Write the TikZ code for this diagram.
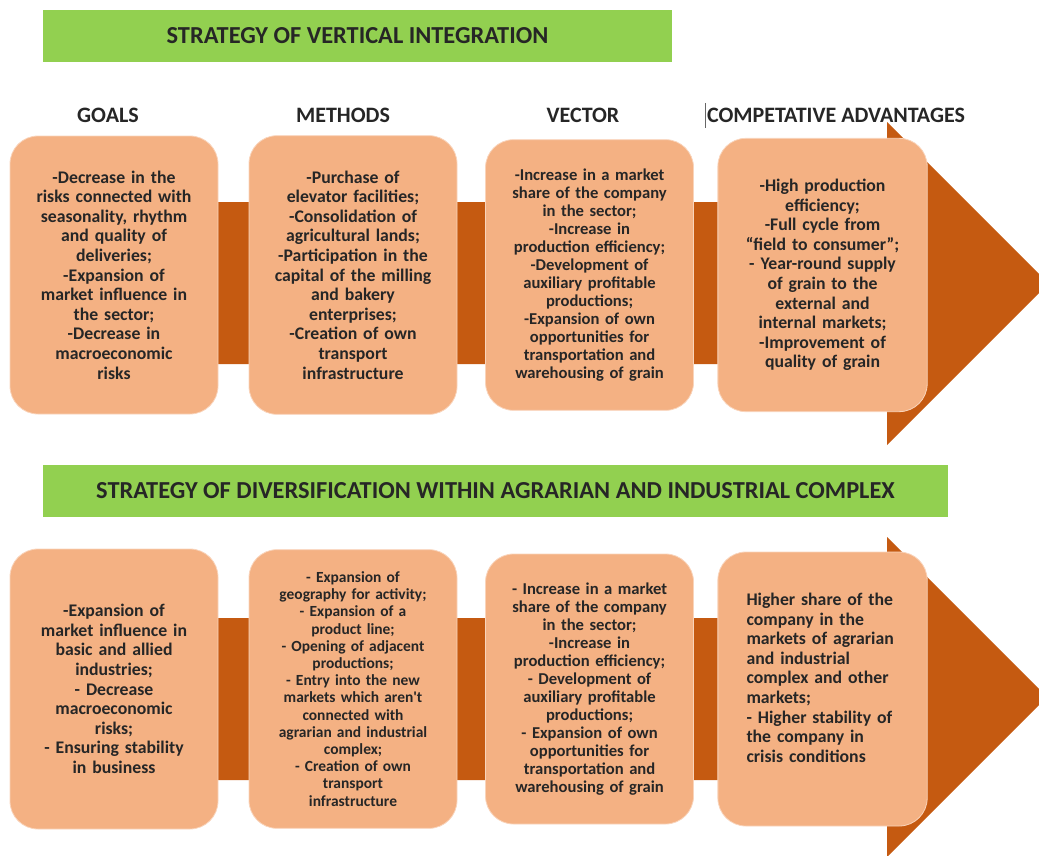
\documentclass[tikz,border=0pt]{standalone}
\usepackage{fontspec}
\setmainfont{Carlito}
\usetikzlibrary{positioning}
\definecolor{bandorange}{HTML}{C55A11}
\definecolor{boxpeach}{HTML}{F4B183}
\definecolor{bannergreen}{HTML}{92D050}
\definecolor{inktext}{HTML}{262626}

\begin{document}
\begin{tikzpicture}[x=0.75pt, y=-0.75pt, text=inktext, on grid,
    banner/.style = {fill=bannergreen, minimum height=39pt, inner sep=0pt, font=\fontsize{18.3}{22}\selectfont\bfseries},
    head/.style = {inner sep=0pt, font=\fontsize{16.5}{20}\selectfont\bfseries},
    card/.style = {fill=boxpeach, draw=boxpeach!55!white, line width=0.6pt, rounded corners=21pt, minimum width=156pt, inner sep=0pt, text width=146pt, align=center, font=\fontsize{13.3}{14.7}\selectfont\bfseries},
    midcard/.style = {card, font=\fontsize{12.45}{13.5}\selectfont\bfseries},
    tinycard/.style = {card, font=\fontsize{11.6}{12.9}\selectfont\bfseries}]
\useasboundingbox (0,0) rectangle (1039,856);

% the two big arrows
\fill[bandorange] (150,202) -- (887,202) -- (887,122) -- (1048.5,283.5) -- (887,445) -- (887,364) -- (150,364) -- cycle;
\fill[bandorange] (150,618) -- (887,618) -- (887,537) -- (1047,697) -- (887,857) -- (887,780) -- (150,780) -- cycle;

% banners and headers
\node[banner, minimum width=471.75pt] (vert) at (357.5,36) {STRATEGY OF VERTICAL INTEGRATION};
\node[banner, minimum width=678.75pt] (divers) at (495.5,491) {STRATEGY OF DIVERSIFICATION WITHIN AGRARIAN AND INDUSTRIAL COMPLEX};
\node[head] (hgoals) at (108,115) {GOALS};
\node[head] (hmeth) at (343,115) {METHODS};
\node[head] (hvec) at (583,115) {VECTOR};
\node[head] (hadv) at (836,115) {COMPETATIVE ADVANTAGES};
\draw[black!60, line width=0.5pt] (705,103) -- (705,128);

% vertical integration
\node[card, minimum height=208.5pt] (goals1) at (114,275) {-Decrease in the\\risks connected with\\seasonality, rhythm\\and quality of\\deliveries;\\-Expansion of\\market influence in\\the sector;\\-Decrease in\\macroeconomic\\risks};
\node[card, minimum height=209pt] (meth1) [right=179.25pt of goals1] {-Purchase of\\elevator facilities;\\-Consolidation of\\agricultural lands;\\-Participation in the\\capital of the milling\\and bakery\\enterprises;\\-Creation of own\\transport\\infrastructure};
\node[midcard, minimum height=203pt] (vec1) [right=177.4pt of meth1] {-Increase in a market\\share of the company\\in the sector;\\-Increase in\\production efficiency;\\-Development of\\auxiliary profitable\\productions;\\-Expansion of own\\opportunities for\\transportation and\\warehousing of grain};
\node[card, minimum height=205pt, minimum width=157pt] (adv1) [right=174.75pt of vec1] {-High production\\efficiency;\\-Full cycle from\\“field to consumer”;\\- Year-round supply\\of grain to the\\external and\\internal markets;\\-Improvement of\\quality of grain};

% diversification
\node[card, minimum height=210pt] (goals2) [below=310.5pt of goals1] {-Expansion of\\market influence in\\basic and allied\\industries;\\- Decrease\\macroeconomic\\risks;\\- Ensuring stability\\in business};
\node[tinycard, minimum height=209pt] (meth2) [right=179.25pt of goals2] {- Expansion of\\geography for activity;\\- Expansion of a\\product line;\\- Opening of adjacent\\productions;\\- Entry into the new\\markets which aren\textquotesingle t\\connected with\\agrarian and industrial\\complex;\\- Creation of own\\transport\\infrastructure};
\node[midcard, minimum height=202.5pt] (vec2) [right=177.4pt of meth2] {- Increase in a market\\share of the company\\in the sector;\\-Increase in\\production efficiency;\\- Development of\\auxiliary profitable\\productions;\\- Expansion of own\\opportunities for\\transportation and\\warehousing of grain};
\node[card, minimum height=205.5pt, minimum width=157pt, text width=114pt, align=left] (adv2) [right=174.75pt of vec2] {Higher share of the\\company in the\\markets of agrarian\\and industrial\\complex and other\\markets;\\- Higher stability of\\the company in\\crisis conditions\par\vspace*{17pt}};
\end{tikzpicture}
\end{document}
